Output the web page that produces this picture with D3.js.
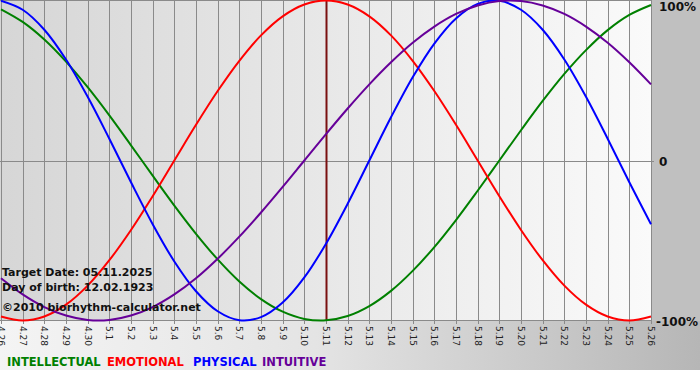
<!DOCTYPE html>
<html><head><meta charset="utf-8">
<script src="https://cdn.jsdelivr.net/npm/d3@7/dist/d3.min.js"></script>
<style>
html,body{margin:0;padding:0;background:#fff;}
svg{display:block;}
</style></head>
<body>
<svg id="chart" width="700" height="380"></svg>
<script>
const dates = ["4.26","4.27","4.28","4.29","4.30","5.1","5.2","5.3","5.4","5.5","5.6","5.7","5.8","5.9","5.10","5.11","5.12","5.13","5.14","5.15","5.16","5.17","5.18","5.19","5.20","5.21","5.22","5.23","5.24","5.25","5.26"];
const targetDate = "5.11";
const intellectual = [0.945,0.866,0.756,0.618,0.458,0.282,0.095,-0.095,-0.282,-0.458,-0.618,-0.756,-0.866,-0.945,-0.990,-0.999,-0.972,-0.910,-0.815,-0.690,-0.541,-0.372,-0.189,0,0.189,0.372,0.541,0.690,0.815,0.910,0.972];
const emotional = [-0.975,-1,-0.975,-0.901,-0.782,-0.623,-0.434,-0.223,0,0.223,0.434,0.623,0.782,0.901,0.975,1,0.975,0.901,0.782,0.623,0.434,0.223,0,-0.223,-0.434,-0.623,-0.782,-0.901,-0.975,-1,-0.975];
const physical = [0.998,0.942,0.817,0.631,0.398,0.136,-0.136,-0.398,-0.631,-0.817,-0.942,-0.998,-0.979,-0.888,-0.731,-0.520,-0.270,0,0.270,0.520,0.731,0.888,0.979,0.998,0.942,0.817,0.631,0.398,0.136,-0.136,-0.398];
const intuitive = [-0.736,-0.837,-0.916,-0.969,-0.997,-0.997,-0.969,-0.916,-0.837,-0.736,-0.614,-0.476,-0.325,-0.165,0,0.165,0.325,0.476,0.614,0.736,0.837,0.916,0.969,0.997,0.997,0.969,0.916,0.837,0.736,0.614,0.476];
const yTickValues = [1,0,-1];
const yTickLabels = ["100%","0","-100%"];
const seriesNames = ["INTELLECTUAL","EMOTIONAL","PHYSICAL","INTUITIVE"];
const seriesColors = ["#008000","#ff0000","#0000ff","#660099"];
const infoLines = ["Target Date: 05.11.2025","Day of birth: 12.02.1923","\u00a92010 biorhythm-calculator.net"];

const svg = d3.select("#chart");
const W = 700, H = 380;
const plotR = 651, plotT = 0.5, plotB = 320.5;

const x = d3.scalePoint().domain(dates).range([1, plotR]);
const y = d3.scaleLinear().domain([-1, 1]).range([plotB, plotT]);

const defs = svg.append("defs");
const g1 = defs.append("linearGradient").attr("id","plotBg").attr("x1","0").attr("x2","1").attr("y1","0").attr("y2","0");
g1.append("stop").attr("offset","0").attr("stop-color","#d6d6d6");
g1.append("stop").attr("offset","1").attr("stop-color","#fafafa");
const g2 = defs.append("linearGradient").attr("id","botBg").attr("x1","0").attr("x2","1").attr("y1","0").attr("y2","0");
g2.append("stop").attr("offset","0").attr("stop-color","#f4f4f4");
g2.append("stop").attr("offset","0.45").attr("stop-color","#e4e4e4");
g2.append("stop").attr("offset","1").attr("stop-color","#b6b6b6");

// backgrounds
svg.append("rect").attr("x",0).attr("y",0).attr("width",W).attr("height",H).attr("fill","#ffffff");
svg.append("rect").attr("x",0).attr("y",321).attr("width",W).attr("height",49).attr("fill","url(#botBg)");
svg.append("rect").attr("x",plotR).attr("y",0).attr("width",W-plotR).attr("height",321).attr("fill","#c0c0c0");
svg.append("rect").attr("x",0).attr("y",0).attr("width",plotR).attr("height",321).attr("fill","url(#plotBg)");

// vertical grid lines + ticks
svg.append("g").selectAll("line").data(dates).join("line")
  .attr("x1", d => Math.round(x(d)) + 0.5).attr("x2", d => Math.round(x(d)) + 0.5)
  .attr("y1", 0).attr("y2", 324)
  .attr("stroke", "#8a8a8a").attr("stroke-width", 1);

// top and bottom frame lines, zero line
svg.append("line").attr("x1",0).attr("x2",plotR+1).attr("y1",0.5).attr("y2",0.5).attr("stroke","#8a8a8a");
svg.append("line").attr("x1",0).attr("x2",plotR+1).attr("y1",plotB).attr("y2",plotB).attr("stroke","#8a8a8a");
svg.append("line").attr("x1",0).attr("x2",plotR+3).attr("y1",Math.round(y(0))+0.5).attr("y2",Math.round(y(0))+0.5).attr("stroke","#8a8a8a");

// target date marker
svg.append("line").attr("x1",Math.round(x(targetDate))+0.5).attr("x2",Math.round(x(targetDate))+0.5)
  .attr("y1",0).attr("y2",plotB).attr("stroke","#7a1010").attr("stroke-width",2);

// x tick labels (rotated)
svg.append("g").selectAll("text").data(dates).join("text")
  .attr("transform", d => `translate(${Math.round(x(d))+0.5},326) rotate(90)`)
  .attr("dy","0.35em")
  .attr("font-family","Tahoma, 'DejaVu Sans', sans-serif")
  .attr("font-size",9)
  .attr("fill","#222")
  .text(d => d);

// y labels
svg.append("g").selectAll("text").data(yTickValues).join("text")
  .attr("x", d => d === -1 ? 656 : 659)
  .attr("y", d => Math.max(y(d) + 1.5, 7))
  .attr("dy","0.35em")
  .attr("font-family","'DejaVu Sans', Verdana, sans-serif")
  .attr("font-weight","bold")
  .attr("font-size",12)
  .attr("fill","#111")
  .text((d,i) => yTickLabels[i]);

// curves
const seriesData = [intellectual, emotional, physical, intuitive];
const line = d3.line().x((d,i) => x(dates[i])).y(d => y(d)).curve(d3.curveCatmullRom.alpha(0.5));
svg.append("g").selectAll("path").data(seriesData).join("path")
  .attr("d", d => line(d))
  .attr("fill","none")
  .attr("stroke",(d,i) => seriesColors[i])
  .attr("stroke-width",2);

// info text
svg.append("g").selectAll("text").data(infoLines).join("text")
  .attr("x", 2)
  .attr("y", (d,i) => [276, 291, 311][i])
  .attr("font-family","'DejaVu Sans', Verdana, sans-serif")
  .attr("font-weight","bold")
  .attr("font-size",11)
  .attr("fill","#111")
  .text(d => d);

// legend
const legendX = [7, 107, 193, 262];
svg.append("g").selectAll("text").data(seriesNames).join("text")
  .attr("x", (d,i) => legendX[i]).attr("y", 366)
  .attr("font-family","Tahoma, 'DejaVu Sans', sans-serif")
  .attr("font-weight","bold")
  .attr("font-size",11.5)
  .attr("fill",(d,i) => seriesColors[i])
  .text(d => d);
</script>
</body></html>
